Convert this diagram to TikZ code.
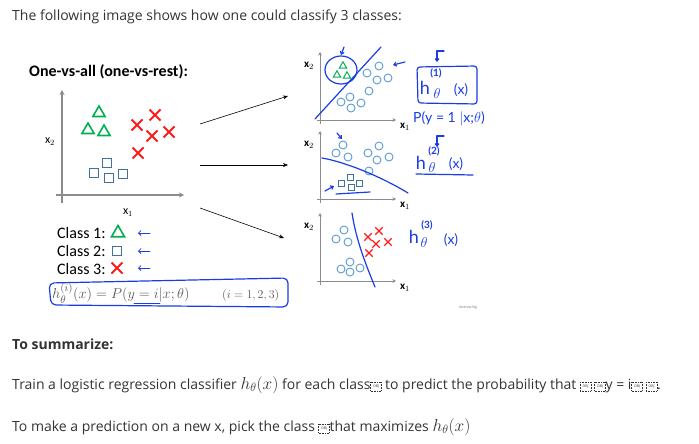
\documentclass[tikz,border=0pt]{standalone}
\usepackage{fontspec}
\setmainfont{Open Sans}
\newfontfamily\calfont{Carlito}
\newfontfamily\handfont{Lato}
\definecolor{handblue}{HTML}{1A3CE6}
\definecolor{trigreen}{HTML}{00B050}
\definecolor{xred}{HTML}{FF1A1A}
\definecolor{sqblue}{HTML}{41719C}
\definecolor{dotblue}{HTML}{5B9BD5}
\definecolor{axisgray}{HTML}{8C8C8C}
\definecolor{bodytext}{HTML}{333333}
\usetikzlibrary{arrows.meta, shapes.geometric, shapes.misc, positioning}
\newcommand{\objmark}{\raisebox{-1.5pt}{\setlength{\unitlength}{1pt}%
  \begin{picture}(11,9)\put(0,0){\dashbox{0.8}(11,9){\fontsize{3.5}{3.5}\selectfont OBJ}}\end{picture}}}
\newcommand{\hyptxt}{{\fontsize{17}{17}\selectfont$h_\theta(x)$}}

\begin{document}
\begin{tikzpicture}[x=1pt, y=-1pt,
  body/.style={anchor=west, inner sep=0, text=bodytext, font=\fontsize{14}{16}\selectfont},
  tri/.style={regular polygon, regular polygon sides=3, draw=trigreen, line width=1.6pt,
              inner sep=0, minimum size=14pt},
  trismall/.style={tri, line width=1pt, minimum size=8.5pt},
  crs/.style={cross out, draw=xred, line width=2pt, inner sep=0, minimum size=9pt},
  crssmall/.style={crs, line width=1.3pt, minimum size=6pt},
  sq/.style={rectangle, draw=sqblue, line width=1.3pt, inner sep=0, minimum size=8.5pt},
  sqsmall/.style={sq, line width=0.9pt, minimum size=6pt},
  dot/.style={circle, draw=dotblue, line width=0.9pt, inner sep=0, minimum size=8pt},
  bigaxis/.style={draw=axisgray, line width=1.6pt, -{Stealth[length=5pt, width=5pt]}},
  axis/.style={draw=axisgray, line width=0.9pt, -{Stealth[length=3.5pt, width=3.5pt]}},
  lbl/.style={inner sep=0, font=\calfont\fontsize{12}{12}\selectfont},
  classlbl/.style={anchor=west, inner sep=0, font=\calfont\fontsize{16}{16}\selectfont},
  hand/.style={draw=handblue, line width=1.2pt, line cap=round, line join=round},
  handtip/.style={hand, -{Straight Barb[length=2.5pt, width=4pt]}},
  thintip/.style={hand, line width=0.8pt, -{Straight Barb[length=2.5pt, width=5pt]}},
  hw/.style={inner sep=0, text=handblue, font=\handfont\fontsize{18}{18}\selectfont},
  hwsmall/.style={hw, font=\handfont\bfseries\fontsize{10}{10}\selectfont},
  hwth/.style={inner sep=0, text=handblue, font=\fontsize{14}{14}\selectfont},
  hwx/.style={hw, font=\handfont\fontsize{14}{14}\selectfont},
  flow/.style={-{Stealth[length=5pt, width=4pt]}, line width=0.6pt},
]
\useasboundingbox (0,0) rectangle (699,444);

% heading
\node[body] (intro) at (12,17) {The following image shows how one could classify 3 classes:};
\node[anchor=west, inner sep=0, font=\calfont\bfseries\fontsize{16}{16}\selectfont] (ova) at (29,72) {One-vs-all (one-vs-rest):};

% left plot
\coordinate (lo) at (62,195);
\draw[bigaxis] (62,203) -- (62,90);
\draw[bigaxis] (56,195) -- (184,195);
\node[lbl] (lx2) at (50,142) {x$_2$};
\node[lbl] (lx1) at (128,213) {x$_1$};
\foreach \p [count=\i] in {{99,113}, {88,130}, {104,132}}
  \node[tri] (lt\i) at (\p) {};
\foreach \p [count=\i] in {{155,115}, {137,125}, {152,136}, {169,132}, {138,153}}
  \node[crs] (lc\i) at (\p) {};
\foreach \p [count=\i] in {{94,173}, {107,163}, {109,178}, {123,174}}
  \node[sq] (ls\i) at (\p) {};

% legend
\node[classlbl] (cl1) at (57,233) {Class 1:};
\node[classlbl] (cl2) at (57,251) {Class 2:};
\node[classlbl] (cl3) at (57,269) {Class 3:};
\node[tri, minimum size=15pt] (sym1) at (118,233) {};
\node[sq, minimum size=9pt] (sym2) at (117,251) {};
\node[crs, minimum size=9pt] (sym3) at (117,268) {};
\foreach \y in {233,251,268}
  \draw[thintip] (150,\y) -- (138,\y);

% formula
\node[anchor=west, inner sep=0, text=black!65, font=\fontsize{15}{15}\selectfont] (hyp) at (52,293)
  {$h_\theta^{(i)}(x) = P(y=i|x;\theta)$};
\node[anchor=west, inner sep=0, text=black!65, font=\fontsize{12.5}{12.5}\selectfont] (idx) at (222,295)
  {$(i=1,2,3)$};
\draw[hand, rounded corners=5pt] (49,283) -- (288,278) -- (288,307) -- (51,305) -- cycle;
\draw[hand, line width=0.9pt] (134,303) -- (160,303);

% connectors
\coordinate (srcA) at (200,124);
\coordinate (dstA) at (288,96);
\coordinate (srcB) at (200,165);
\coordinate (dstB) at (288,165);
\coordinate (srcC) at (200,208);
\coordinate (dstC) at (284,238);
\draw[flow] (srcA) -- (dstA);
\draw[flow] (srcB) -- (dstB);
\draw[flow] (srcC) -- (dstC);

% right plots: axes
\foreach \oy [count=\k] in {120,199,281} {
  \draw[axis] (320,\oy+4) -- (320,\oy-68);
  \draw[axis] (317,\oy) -- (396,\oy);
  \node[lbl, font=\calfont\bfseries\fontsize{11}{11}\selectfont] (rx2\k) at (309,\oy-54) {x$_2$};
  \node[lbl, font=\calfont\bfseries\fontsize{11}{11}\selectfont] (rx1\k) at (405,\oy+7) {x$_1$};
}

% plot 1
\foreach \p [count=\i] in {{343,66}, {337,75}, {347,76}}
  \node[trismall] (at\i) at (\p) {};
\foreach \p [count=\i] in {{379,66}, {367,73}, {377,80}, {388,78}, {369,91}, {350,97}, {341,102}, {351,108}, {361,103}}
  \node[dot] (ad\i) at (\p) {};
\draw[hand] (341,70) ellipse [x radius=16, y radius=14];
\draw[handtip] (344,47) -- (341,55);
\draw[hand] (315,119) -- (381,47);
\draw[handtip] (405,62) -- (393,65);
\draw[hand, rounded corners=3pt] (417,67) -- (477,66) -- (477,104) -- (418,103) -- cycle;
\draw[handtip] (444,51) -- (437,51) -- (437,62);
\node[hwsmall] (ha1) at (436,73) {(1)};
\node[hw] (ha) at (425,88) {h};
\node[hwth] (hath) at (437,94) {$\theta$};
\node[hwx] (hax) at (461,90) {(x)};
\node[hw, anchor=west, font=\handfont\fontsize{14}{14}\selectfont] (pa) at (413,119) {P(y = 1 $|$x;$\theta$)};

% plot 2
\foreach \p [count=\i] in {{343,145}, {336,153}, {348,157}, {368,153}, {379,146}, {377,160}, {389,157}, {369,171}}
  \node[dot] (bd\i) at (\p) {};
\foreach \p [count=\i] in {{341,183}, {350,177}, {351,187}, {359,183}}
  \node[sqsmall] (bs\i) at (\p) {};
\draw[hand] (322,158) .. controls (345,162) and (380,176) .. (408,193);
\draw[handtip] (337,133) -- (342,139);
\draw[handtip] (325,191) -- (334,186);
\draw[hand] (336,194) -- (370,192);
\draw[handtip] (444,136) -- (437,136) -- (437,147);
\node[hwsmall] (hb2) at (434,151) {(2)};
\node[hw] (hb) at (421,163) {h};
\node[hwth] (hbth) at (432,167) {$\theta$};
\node[hwx] (hbx) at (456,164) {(x)};
\draw[hand] (416,174) -- (473,175);

% plot 3
\foreach \p [count=\i] in {{344,230}, {336,239}, {348,242}, {350,262}, {341,269}, {350,272}, {360,268}}
  \node[dot] (cd\i) at (\p) {};
\foreach \p [count=\i] in {{368,237}, {379,231}, {376,244}, {388,242}, {369,253}}
  \node[crssmall] (cc\i) at (\p) {};
\draw[hand] (352,213) .. controls (356,240) and (366,265) .. (375,287);
\node[hwsmall] (hc3) at (427,225) {(3)};
\node[hw] (hc) at (414,237) {h};
\node[hwth] (hcth) at (424,242) {$\theta$};
\node[hwx] (hcx) at (451,240) {(x)};

\node[inner sep=0, text=black!55, font=\fontsize{3.5}{4}\selectfont] (sig) at (468,308) {Andrew Ng};

% summary
\node[body, font=\bfseries\fontsize{14}{16}\selectfont] (summ) at (12,344) {To summarize:};
\node[body] (train) at (12,385) {Train a logistic regression classifier \hyptxt{} for each class\objmark{} to predict the probability that \objmark{} \objmark{}y = i\objmark{} \objmark{}.};
\node[body] (pred) at (12,427) {To make a prediction on a new x, pick the class \objmark{}that maximizes \hyptxt};
\end{tikzpicture}
\end{document}
